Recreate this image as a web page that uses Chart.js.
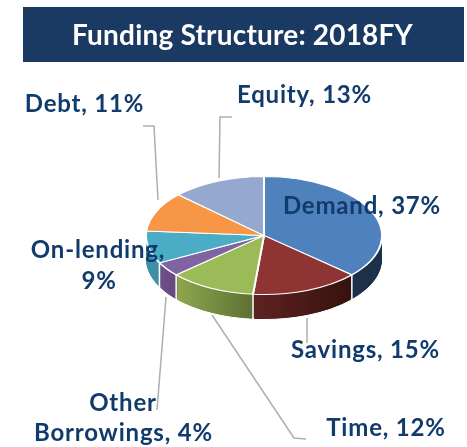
<!DOCTYPE html>
<html><head><meta charset="utf-8">
<style>html,body{margin:0;padding:0;background:#fff}#w{width:467px;height:447px}canvas{display:block}</style>
<script src="https://cdn.jsdelivr.net/npm/chart.js@4/dist/chart.umd.min.js"></script>
</head><body><div id="w"><canvas id="c" width="467" height="447"></canvas></div>
<script>
const titleText = 'Funding Structure: 2018FY';
const categories = ['Demand','Savings','Time','Other Borrowings','On-lending','Debt','Equity'];
const shares = [37,15,12,4,9,11,13];
const topColors = ['#4f81bd','#8e3533','#9bbb59','#8064a2','#4bacc6','#f79646','#95a8cf'];
const wallFrom = ['#1f3a57','#5e2320','#8fa74e','#6d5189','#3f8fa6','#c77a38','#7a8aab'];
const wallTo = ['#1c3049','#36120e','#5d7034','#65497f','#3f8fa6','#c77a38','#7a8aab'];

const FONT = 'Lato';
const INK = '#123b6d', LINE = '#aeaeae';
const TILT = 0.5, DEPTH = 25;
// [text, centre x, baseline y] for each text line of the labels
const labelLines = [
  ['Debt, 11%',84.5,112],['Equity, 13%',304.5,103],['Demand, 37%',362,214],
  ['On-lending,',98,258],['9%',99,289],['Savings, 15%',365.5,358],
  ['Time, 12%',386,436],['Other',123,411],['Borrowings, 4%',123.5,441]
];
const leaders = [
  [[143,126],[154,126],[158,200]],[[232,117],[220,117],[219,178]],
  [[307,318],[307,343]],[[212,315],[294,438],[306,439]],[[166,297],[157,410]]
];

function tilt(ctx,el){ctx.translate(el.x,el.y);ctx.scale(1,TILT);ctx.translate(-el.x,-el.y);}

const pie3d = {
  id:'pie3d',
  beforeDraw(chart){
    const c=chart.ctx;
    c.save();
    c.fillStyle='#1a3a63';c.fillRect(23,7,441,55);
    c.fillStyle='#fff';c.font='bold 28px '+FONT;c.letterSpacing='0.2px';c.textAlign='center';c.textBaseline='alphabetic';
    c.fillText(titleText,242.5,45);
    c.letterSpacing='0px';
    c.strokeStyle=LINE;c.lineWidth=1.5;
    leaders.forEach(p=>{c.beginPath();p.forEach((q,i)=>i?c.lineTo(q[0],q[1]):c.moveTo(q[0],q[1]));c.stroke();});
    c.restore();
  },
  beforeDatasetsDraw(chart){
    const c=chart.ctx, arcs=chart.getDatasetMeta(0).data;
    const grads=arcs.map((el,i)=>{
      const R=el.outerRadius;
      const xs=[el.startAngle,el.endAngle].map(a=>el.x+R*Math.cos(a));
      const g=c.createLinearGradient(Math.min(...xs),0,Math.max(...xs),0);
      g.addColorStop(0,wallFrom[i]);g.addColorStop(1,wallTo[i]);return g;
    });
    // side wall: the same arcs stacked downward
    for(let d=DEPTH;d>=1;d--){
      arcs.forEach((el,i)=>{
        const keep=el.options;
        el.options=Object.assign({},keep,{backgroundColor:grads[i],borderWidth:d===DEPTH?2:0,borderColor:'#fff'});
        c.save();c.translate(0,d);tilt(c,el);el.draw(c);c.restore();
        el.options=keep;
      });
    }
    // seams between wall segments
    c.save();c.strokeStyle='#fff';c.lineWidth=1.5;
    arcs.forEach(el=>{
      const s=Math.sin(el.startAngle);
      if(s>0){
        const x=el.x+el.outerRadius*Math.cos(el.startAngle),y=el.y+el.outerRadius*s*TILT;
        c.beginPath();c.moveTo(x,y);c.lineTo(x,y+DEPTH);c.stroke();
      }
    });
    c.restore();
    c.save();tilt(c,arcs[0]);
  },
  afterDatasetsDraw(chart){
    const c=chart.ctx;
    c.restore();
    c.save();
    c.fillStyle=INK;c.font='bold 24px '+FONT;c.letterSpacing='0.8px';c.textAlign='center';c.textBaseline='alphabetic';
    labelLines.forEach(l=>c.fillText(l[0],l[1],l[2]));
    c.restore();
  }
};

new Chart(document.getElementById('c'),{
  type:'pie',
  data:{labels:categories,datasets:[{data:shares,backgroundColor:topColors,borderColor:'#fff',borderWidth:2}]},
  options:{
    responsive:false,animation:false,
    layout:{padding:{left:145,right:84,top:116.5,bottom:92.5}},
    plugins:{legend:{display:false},tooltip:{enabled:false}}
  },
  plugins:[pie3d]
});
</script></body></html>
